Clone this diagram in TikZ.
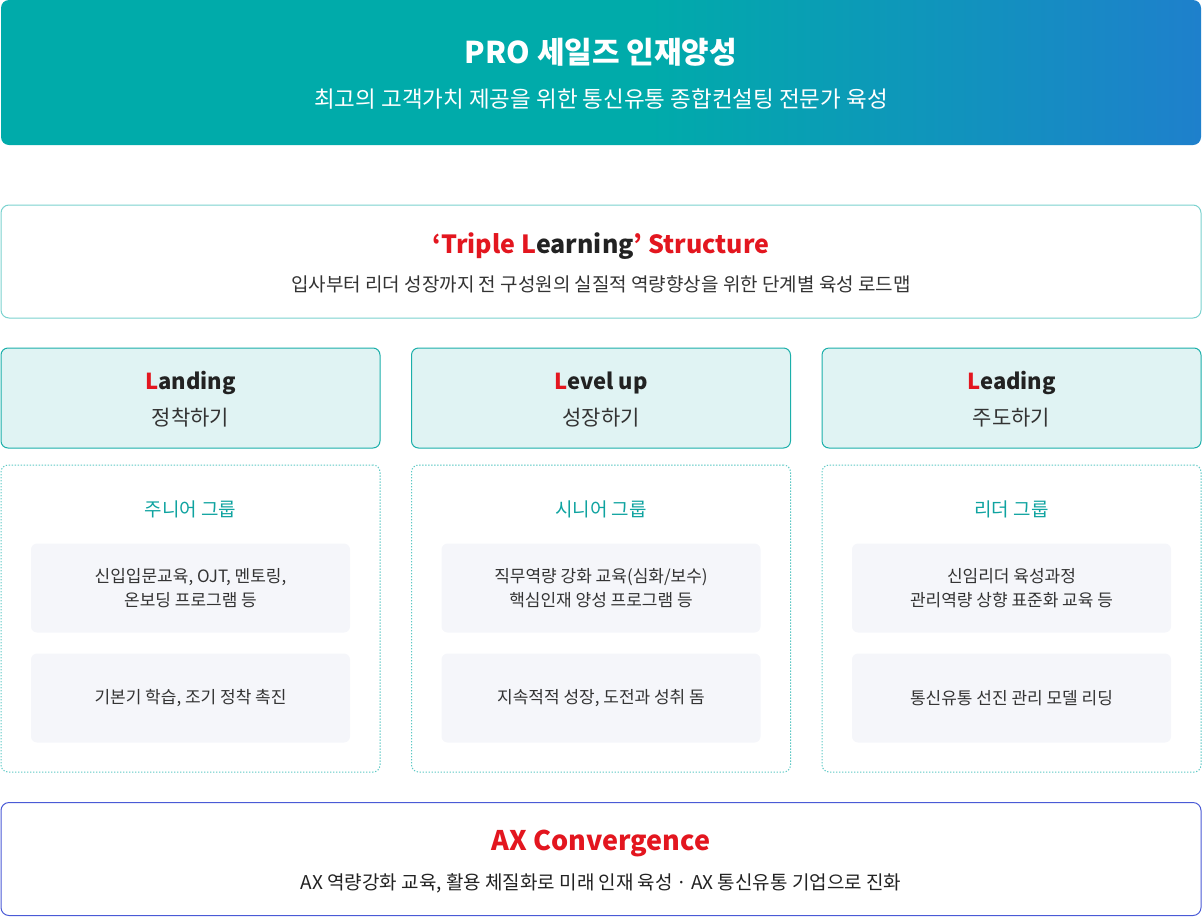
\documentclass[tikz,border=0pt]{standalone}
\usepackage{fontspec}
\setmainfont{Noto Sans CJK KR}
\usepackage{xcolor}
\usetikzlibrary{positioning,calc}
\definecolor{bannerteal}{HTML}{00ABAA}
\definecolor{bannerblue}{HTML}{1E80CC}
\definecolor{boxline}{HTML}{7AD2CF}
\definecolor{headfill}{HTML}{E0F3F3}
\definecolor{headline}{HTML}{1BAFAA}
\definecolor{dotline}{HTML}{5CC8C4}
\definecolor{grouptxt}{HTML}{0FA3A0}
\definecolor{cardfill}{HTML}{F5F6FA}
\definecolor{axline}{HTML}{4A5AD6}
\definecolor{redL}{HTML}{E3161F}
\definecolor{darktxt}{HTML}{222222}
\definecolor{bodytxt}{HTML}{333333}
\pgfdeclarehorizontalshading{bannershade}{100bp}{color(0bp)=(bannerteal); color(25bp)=(bannerteal); color(52bp)=(bannerteal); color(75bp)=(bannerblue); color(100bp)=(bannerblue)}
\newcommand{\redL}{\textcolor{redL}{L}}
\tikzset{
  banner/.style={rectangle, rounded corners=8pt, shading=bannershade, draw=none,
    minimum width=1200pt, minimum height=145pt, inner sep=0pt},
  framebox/.style={rectangle, rounded corners=8pt, draw=#1, line width=1pt, fill=white,
    minimum width=1200pt, minimum height=113pt, inner sep=0pt},
  headbox/.style={rectangle, rounded corners=7pt, draw=headline, line width=1pt, fill=headfill,
    minimum width=379pt, minimum height=100pt, inner sep=0pt},
  groupbox/.style={rectangle, rounded corners=7pt, draw=dotline, line width=1pt,
    dash pattern=on 1.3pt off 1.7pt, minimum width=379pt, minimum height=307pt, inner sep=0pt},
  card/.style={rectangle, rounded corners=6pt, fill=cardfill, draw=none,
    minimum width=319pt, minimum height=89pt, inner sep=0pt, align=center,
    text=bodytxt, font=\fontsize{17}{24}\selectfont},
  bigtitle/.style={font=\fontsize{#1}{#1}\selectfont\bfseries, inner sep=0pt},
  subtxt/.style={font=\fontsize{#1}{#1}\selectfont, inner sep=0pt, text=bodytxt},
  grouplabel/.style={font=\fontsize{19}{19}\selectfont, text=grouptxt, inner sep=0pt},
}

\begin{document}
\begin{tikzpicture}[x=1pt, y=-1pt]
  \useasboundingbox (0,0) rectangle (1202,916);
  % top banner
  \node (banner) [banner] at (601,72.5) {};
  \node (bantitle) [bigtitle=30, text=white] at (601,52) {PRO 세일즈 인재양성};
  \node (bansub) [subtxt=22.5, text=white] at (601,99) {최고의 고객가치 제공을 위한 통신유통 종합컨설팅 전문가 육성};
  % triple learning
  \node (triple) [framebox=boxline] at (601,261.5) {};
  \node (tritle) [bigtitle=25, text=darktxt] at (601,246) {\textcolor{redL}{‘Triple L}earning\textcolor{redL}{’ Structure}};
  \node (trisub) [subtxt=19] at (601,284) {입사부터 리더 성장까지 전 구성원의 실질적 역량향상을 위한 단계별 육성 로드맵};
  % stage headers
  \node (head1) [headbox] at (190.5,398) {};
  \node (head2) [headbox] at (601,398) {};
  \node (head3) [headbox] at (1011.5,398) {};
  \node (h1title) [bigtitle=22, text=darktxt] at (190.5,383) {\redL anding};
  \node (h2title) [bigtitle=22, text=darktxt] at (601,383) {\redL evel up};
  \node (h3title) [bigtitle=22, text=darktxt] at (1011.5,383) {\redL eading};
  \node (h1sub) [subtxt=21] at (190.5,418) {정착하기};
  \node (h2sub) [subtxt=21] at (601,418) {성장하기};
  \node (h3sub) [subtxt=21] at (1011.5,418) {주도하기};
  % groups
  \node (grp1) [groupbox] at (190.5,618.5) {};
  \node (grp2) [groupbox] at (601,618.5) {};
  \node (grp3) [groupbox] at (1011.5,618.5) {};
  \node (g1label) [grouplabel] at (190.5,509) {주니어 그룹};
  \node (g2label) [grouplabel] at (601,509) {시니어 그룹};
  \node (g3label) [grouplabel] at (1011.5,509) {리더 그룹};
  \node (c1a) [card] at (190.5,588) {신입입문교육, OJT, 멘토링,\\온보딩 프로그램 등};
  \node (c1b) [card] at (190.5,698) {기본기 학습, 조기 정착 촉진};
  \node (c2a) [card] at (601,588) {직무역량 강화 교육(심화/보수)\\핵심인재 양성 프로그램 등};
  \node (c2b) [card] at (601,698) {지속적적 성장, 도전과 성취 돔};
  \node (c3a) [card] at (1011.5,588) {신임리더 육성과정\\관리역량 상향 표준화 교육 등};
  \node (c3b) [card] at (1011.5,698) {통신유통 선진 관리 모델 리딩};
  % AX convergence
  \node (axbox) [framebox=axline] at (601,859) {};
  \node (axtitle) [bigtitle=27, text=redL] at (601,843) {AX Convergence};
  \node (axsub) [subtxt=19, text=darktxt] at (601,883) {AX 역량강화 교육, 활용 체질화로 미래 인재 육성\hspace{0.2em}·\hspace{0.2em}AX 통신유통 기업으로 진화};
\end{tikzpicture}
\end{document}
